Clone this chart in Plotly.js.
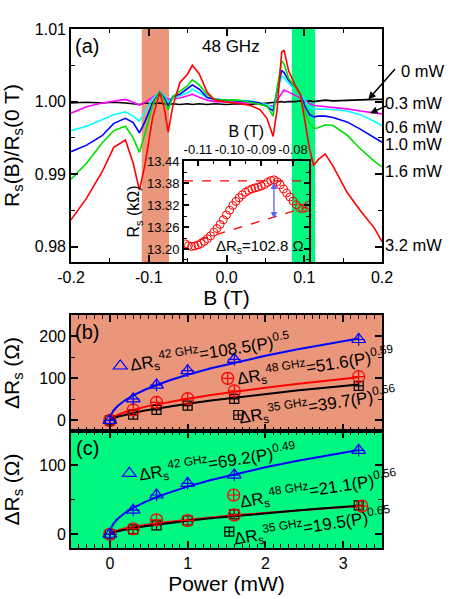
<!DOCTYPE html>
<html>
<head>
<meta charset="utf-8">
<script src="https://cdn.plot.ly/plotly-3.0.1.min.js"></script>
<style>
  html, body { margin: 0; padding: 0; background: #fff; }
  #chart { width: 463px; height: 599px; }
</style>
</head>
<body>
<div id="chart"></div>
<script>
const FONT = 'Liberation Sans, Arial, sans-serif';

// --- panel (a): Rs(B)/Rs(0 T) at 48 GHz for several powers ---
const fieldB = [-0.2, -0.18, -0.16, -0.145, -0.13, -0.12, -0.112, -0.105, -0.095, -0.086, -0.08, -0.075, -0.069,
  -0.06, -0.05, -0.044, -0.035, -0.025, -0.015, 0, 0.015, 0.03, 0.043, 0.052, 0.06, 0.065, 0.071, 0.074,
  0.08, 0.088, 0.095, 0.101, 0.107, 0.112, 0.118, 0.127, 0.137, 0.155, 0.172, 0.19, 0.2];

const ratio0mW = [0.9998, 0.9999, 0.9998, 0.9999, 0.9998, 0.9997, 0.9996, 0.9998, 0.9997, 0.9998, 0.9997, 0.9996,
  0.9997, 0.9996, 0.9997, 0.9996, 0.9997, 0.9996, 0.9997, 0.9996, 0.9997, 0.9996, 0.9997, 0.9998, 0.9998, 0.9999,
  1.0000, 0.9999, 1.0000, 1.0000, 1.0001, 1.0000, 1.0001, 1.0000, 1.0001, 1.0002, 1.0001, 1.0002, 1.0002, 1.0003, 1.0003];
const ratio03mW = [0.9984, 0.9993, 0.9998, 1.0001, 1.0003, 0.9999, 0.9995, 0.9999, 1.0006, 1.0011, 1.0006, 1.0003,
  1.0004, 1.0005, 1.0008, 1.0010, 1.0006, 1.0002, 1.0000, 1.0000, 0.9999, 0.9998, 0.9996, 0.9995, 0.9994, 1.0002,
  1.0012, 1.0016, 1.0013, 1.0009, 1.0006, 1.0002, 0.9997, 0.9995, 0.9994, 0.9993, 0.9992, 0.9990, 0.9987, 0.9984, 0.9983];
const ratio06mW = [0.9960, 0.9966, 0.9975, 0.9982, 0.9986, 0.9980, 0.9973, 0.9985, 1.0004, 1.0013, 1.0008, 1.0000,
  1.0004, 1.0008, 1.0012, 1.0017, 1.0012, 1.0005, 1.0003, 1.0002, 1.0002, 1.0001, 0.9998, 0.9996, 0.9991, 1.0010,
  1.0035, 1.0033, 1.0025, 1.0017, 1.0011, 1.0001, 0.9992, 0.9990, 0.9990, 0.9990, 0.9989, 0.9987, 0.9982, 0.9973, 0.9967];
const ratio10mW = [0.9931, 0.9940, 0.9953, 0.9970, 0.9977, 0.9971, 0.9957, 0.9972, 0.9998, 1.0013, 1.0005, 0.9994,
  1.0007, 1.0010, 1.0018, 1.0023, 1.0017, 1.0006, 1.0003, 1.0002, 1.0002, 1.0000, 0.9998, 0.9993, 0.9987, 1.0015,
  1.0043, 1.0040, 1.0029, 1.0020, 1.0010, 0.9993, 0.9982, 0.9979, 0.9980, 0.9980, 0.9978, 0.9972, 0.9962, 0.9950, 0.9944];
const ratio16mW = [0.9893, 0.9915, 0.9943, 0.9960, 0.9966, 0.9950, 0.9930, 0.9955, 0.9995, 1.0013, 1.0002, 0.9988,
  1.0007, 1.0014, 1.0022, 1.0030, 1.0023, 1.0010, 1.0003, 1.0002, 1.0002, 0.9999, 0.9996, 0.9994, 0.9980, 1.0018,
  1.0056, 1.0052, 1.0032, 1.0020, 1.0009, 0.9985, 0.9970, 0.9963, 0.9964, 0.9968, 0.9967, 0.9954, 0.9935, 0.9918, 0.9910];
const ratio32mW = [0.9837, 0.9867, 0.9903, 0.9937, 0.9947, 0.9915, 0.9878, 0.9912, 0.9978, 1.0012, 0.9991, 0.9958,
  0.9994, 1.0026, 1.0038, 1.0050, 1.0038, 1.0013, 1.0002, 1.0000, 0.9998, 0.9995, 0.9989, 0.9977, 0.9952, 0.9988,
  1.0068, 1.0071, 1.0042, 1.0023, 1.0010, 0.9971, 0.9934, 0.9912, 0.9920, 0.9928, 0.9911, 0.9875, 0.9850, 0.9826, 0.9807];

const powerLabels = ['0 mW', '0.3 mW', '0.6 mW', '1.0 mW', '1.6 mW', '3.2 mW'];
const curveColors = ['#000000', '#ff00ff', '#00ffff', '#0000ff', '#00e000', '#ff0000'];
const sweeps = [ratio0mW, ratio03mW, ratio06mW, ratio10mW, ratio16mW, ratio32mW];

// inset: Rs (kOhm) around -0.1 T
const insetB = [-0.114, -0.113, -0.112, -0.111, -0.110, -0.109, -0.108, -0.107, -0.106, -0.105, -0.104, -0.103,
  -0.102, -0.101, -0.100, -0.099, -0.098, -0.097, -0.096, -0.095, -0.094, -0.093, -0.092, -0.091, -0.090, -0.089,
  -0.088, -0.087, -0.086, -0.085, -0.084, -0.083, -0.082, -0.081, -0.080, -0.079, -0.078, -0.077, -0.076, -0.075];
const insetRs = [13.214, 13.209, 13.207, 13.208, 13.211, 13.215, 13.221, 13.228, 13.236, 13.246, 13.256, 13.267,
  13.280, 13.293, 13.306, 13.319, 13.330, 13.340, 13.348, 13.355, 13.360, 13.364, 13.367, 13.369, 13.372, 13.376,
  13.382, 13.387, 13.389, 13.384, 13.375, 13.364, 13.353, 13.342, 13.331, 13.321, 13.313, 13.310, 13.313, 13.320];
const peakB = -0.086;
const peakRs = 13.386;
const deltaRs = 102.8;  // Ohm
const topLineB = [-0.1144, -0.0751];
const baseLineB = [-0.1096, -0.0755];
const baseLineRs = [13.225, 13.315];

// --- panels (b) and (c): DeltaRs vs power ---
const power = [0, 0.3, 0.6, 1.0, 1.6, 3.2];
const power48c = [0, 0.3, 0.6, 1.0, 1.6, 3.24];
const dR42b = [0, 51, 84, 118, 145, 192];
const dR48b = [0, 25, 43, 52, 70, 104];
const dR35b = [0, 14, 25, 35, 51, 82];
const dR42c = [0, 35, 57, 74, 86, 122];
const dR48c = [0, 8, 21, 20, 28, 41];
const dR35c = [0, 7, 13, 20, 29, 42];

const fitP = [0, 0.02, 0.05, 0.1, 0.2, 0.3, 0.45, 0.6, 0.8, 1.0, 1.3, 1.6, 2.0, 2.4, 2.8, 3.2];
const fit42b = [0, 15.3, 24.3, 34.3, 48.5, 59.4, 72.8, 84.0, 97.0, 108.5, 123.7, 137.2, 153.4, 168.1, 181.6, 194.1];
const fit48b = [0, 5.1, 8.8, 13.3, 20.0, 25.4, 32.2, 38.2, 45.2, 51.6, 60.2, 68.1, 77.7, 86.5, 94.7, 102.5];
const fit35b = [0, 3.0, 5.5, 8.7, 13.7, 17.9, 23.4, 28.3, 34.3, 39.7, 47.2, 54.1, 62.7, 70.8, 78.3, 85.5];
const fit42c = [0, 10.2, 15.9, 22.4, 31.5, 38.4, 46.8, 53.9, 62.0, 69.2, 78.7, 87.1, 97.2, 106.3, 114.6, 122.4];
const fit48c = [0, 2.4, 3.9, 5.8, 8.6, 10.8, 13.5, 15.9, 18.6, 21.1, 24.4, 27.5, 31.1, 34.5, 37.6, 40.5];
const fit35c = [0, 1.5, 2.8, 4.4, 6.9, 8.9, 11.6, 14.0, 16.9, 19.5, 23.1, 26.5, 30.6, 34.5, 38.1, 41.5];

const fitLabelsB = ['ΔR<sub>s</sub><sup>42 GHz</sup>=108.5(P)<sup>0.5</sup>',
                    'ΔR<sub>s</sub><sup>48 GHz</sup>=51.6(P)<sup>0.59</sup>',
                    'ΔR<sub>s</sub><sup>35 GHz</sup>=39.7(P)<sup>0.66</sup>'];
const fitLabelsC = ['ΔR<sub>s</sub><sup>42 GHz</sup>=69.2(P)<sup>0.49</sup>',
                    'ΔR<sub>s</sub><sup>48 GHz</sup>=21.1(P)<sup>0.56</sup>',
                    'ΔR<sub>s</sub><sup>35 GHz</sup>=19.5(P)<sup>0.65</sup>'];

const SALMON = 'rgb(234,150,123)';
const SPRING = 'rgb(0,248,128)';

// --- traces ---
const traces = [];

sweeps.forEach((ys, i) => {
  traces.push({
    x: fieldB, y: ys, xaxis: 'x', yaxis: 'y', type: 'scatter', mode: 'lines', name: powerLabels[i],
    line: {color: curveColors[i], width: 1.6}, showlegend: false, hoverinfo: 'skip'
  });
});

// inset
traces.push({
  x: topLineB, y: [peakRs, peakRs], xaxis: 'x2', yaxis: 'y2', mode: 'lines',
  line: {color: 'red', width: 1.3, dash: 'dash'}, showlegend: false, hoverinfo: 'skip'
});
traces.push({
  x: baseLineB, y: baseLineRs, xaxis: 'x2', yaxis: 'y2', mode: 'lines',
  line: {color: 'red', width: 1.3, dash: 'dash'}, showlegend: false, hoverinfo: 'skip'
});
traces.push({
  x: insetB, y: insetRs, xaxis: 'x2', yaxis: 'y2', mode: 'markers',
  marker: {symbol: 'circle-open', size: 8, color: 'red', line: {width: 1, color: 'red'}},
  showlegend: false, hoverinfo: 'skip'
});

// fit curves + points for (b) and (c); the legend boxes only carry the key symbols,
// the fit equations sit next to them as annotations
function addPanel(xa, ya, fits, sets, legends) {
  const colors = ['#0000ff', '#ff0000', '#000000'];
  [0, 1, 2].forEach(i => {
    traces.push({
      x: fitP, y: fits[i], xaxis: xa, yaxis: ya, mode: 'lines',
      line: {color: colors[i], width: 2}, showlegend: false, hoverinfo: 'skip'
    });
  });
  const symbols = ['triangle-up-open', 'circle-cross-open', 'square-cross-open'];
  const sizes = [12, 12, 9];
  [2, 1, 0].forEach(i => {
    traces.push({
      x: sets[i][0], y: sets[i][1], xaxis: xa, yaxis: ya, mode: 'markers', name: ' ',
      marker: {symbol: symbols[i], size: sizes[i], color: colors[i], line: {width: 1.2, color: colors[i]}},
      legend: legends[i], showlegend: true, hoverinfo: 'skip'
    });
  });
  // the "+" inside the triangles
  traces.push({
    x: sets[0][0], y: sets[0][1], xaxis: xa, yaxis: ya, mode: 'markers',
    marker: {symbol: 'cross-thin-open', size: 9, color: colors[0], line: {width: 1.2, color: colors[0]}},
    showlegend: false, hoverinfo: 'skip'
  });
}

addPanel('x3', 'y3', [fit42b, fit48b, fit35b],
  [[power, dR42b], [power, dR48b], [power, dR35b]], ['legend', 'legend2', 'legend3']);
addPanel('x4', 'y4', [fit42c, fit48c, fit35c],
  [[power, dR42c], [power48c, dR48c], [power, dR35c]], ['legend4', 'legend5', 'legend6']);

// --- layout ---
const tickFont = {family: FONT, size: 16, color: 'black'};
const base = {
  showline: true, linecolor: 'black', linewidth: 1.6, mirror: 'allticks',
  ticks: 'inside', ticklen: 7, tickwidth: 1.5, tickcolor: 'black',
  showgrid: false, zeroline: false, tickfont: tickFont
};
const minor = (tick0, dtick, len) => ({ticks: 'inside', ticklen: len || 4, tickwidth: 1.2, tickcolor: 'black',
  tickmode: 'linear', tick0: tick0, dtick: dtick, showgrid: false});

function key(px, py) {
  return {
    x: px, y: py, xanchor: 'left', yanchor: 'middle', xref: 'paper', yref: 'paper',
    bgcolor: 'rgba(0,0,0,0)', borderwidth: 0, itemwidth: 30,
    font: {family: FONT, size: 12, color: 'black'}
  };
}

const layout = {
  width: 463, height: 599, autosize: false,
  margin: {l: 71, r: 81, t: 29, b: 51},
  paper_bgcolor: 'white', plot_bgcolor: 'rgba(0,0,0,0)',
  font: {family: FONT, color: 'black'},
  showlegend: true,
  xaxis: Object.assign({}, base, {
    domain: [0, 1], anchor: 'y', range: [-0.2, 0.2],
    tickmode: 'array', tickvals: [-0.2, -0.1, 0, 0.1, 0.2], ticktext: ['-0.2', '-0.1', '0.0', '0.1', '0.2'],
    minor: minor(0, 0.05),
    title: {text: 'B (T)', font: {family: FONT, size: 21}, standoff: 1}
  }),
  yaxis: Object.assign({}, base, {
    domain: [0.5511, 1], anchor: 'x', range: [0.9779, 1.01],
    tickmode: 'array', tickvals: [0.98, 0.99, 1.0, 1.01], ticktext: ['0.98', '0.99', '1.00', '1.01'],
    minor: minor(0, 0.005),
    title: {text: 'R<sub>s</sub>(B)/R<sub>s</sub>(0 T)', font: {family: FONT, size: 21}, standoff: 13}
  }),
  xaxis2: Object.assign({}, base, {
    domain: [0.3633, 0.7637], anchor: 'y2', side: 'top', range: [-0.1144, -0.0751], mirror: true,
    ticklen: 5, tickfont: {family: FONT, size: 13, color: 'black'},
    tickmode: 'array', tickvals: [-0.11, -0.10, -0.09, -0.08], ticktext: ['-0.11', '-0.10', '-0.09', '-0.08'],
    minor: minor(0, 0.005, 3),
    title: {text: 'B (T)', font: {family: FONT, size: 16}, standoff: 0}
  }),
  yaxis2: Object.assign({}, base, {
    domain: [0.5511, 0.7457], anchor: 'x2', range: [13.1645, 13.4405],
    ticklen: 5, tickfont: {family: FONT, size: 13, color: 'black'},
    tickmode: 'array', tickvals: [13.20, 13.26, 13.32, 13.38, 13.44],
    ticktext: ['13.20', '13.26', '13.32', '13.38', '13.44'],
    minor: minor(13.2, 0.03, 3),
    title: {text: 'R<sub>s</sub> (kΩ)', font: {family: FONT, size: 16}, standoff: 3}
  }),
  xaxis3: Object.assign({}, base, {
    domain: [0, 1], anchor: 'y3', range: [-0.5, 3.5], dtick: 1, tick0: 0,
    showticklabels: false, minor: minor(0, 0.1)
  }),
  yaxis3: Object.assign({}, base, {
    domain: [0.2254, 0.4489], anchor: 'x3', range: [-25, 250],
    tickmode: 'array', tickvals: [0, 100, 200], ticktext: ['0', '100', '200'],
    minor: minor(0, 50),
    title: {text: 'ΔR<sub>s</sub> (Ω)', font: {family: FONT, size: 21}, standoff: 14}
  }),
  xaxis4: Object.assign({}, base, {
    domain: [0, 1], anchor: 'y4', range: [-0.5, 3.5],
    tickmode: 'array', tickvals: [0, 1, 2, 3], ticktext: ['0', '1', '2', '3'],
    minor: minor(0, 0.1),
    title: {text: 'Power (mW)', font: {family: FONT, size: 21}, standoff: 1}
  }),
  yaxis4: Object.assign({}, base, {
    domain: [0, 0.2254], anchor: 'x4', range: [-20, 150],
    tickmode: 'array', tickvals: [0, 100], ticktext: ['0', '100'],
    minor: minor(0, 50),
    title: {text: 'ΔR<sub>s</sub> (Ω)', font: {family: FONT, size: 21}, standoff: 14}
  }),
  legend: key(0.0942, 0.3507),
  legend2: key(0.4395, 0.327),
  legend3: key(0.4736, 0.2563),
  legend4: key(0.1232, 0.1439),
  legend5: key(0.4588, 0.1021),
  legend6: key(0.4447, 0.0314),
  shapes: [
    {type: 'rect', xref: 'x', yref: 'y domain', x0: -0.109, x1: -0.074, y0: 0, y1: 1,
     fillcolor: SALMON, line: {width: 0}, layer: 'below'},
    {type: 'rect', xref: 'x', yref: 'y domain', x0: 0.084, x1: 0.114, y0: 0, y1: 1,
     fillcolor: SPRING, line: {width: 0}, layer: 'below'},
    {type: 'rect', xref: 'x3 domain', yref: 'y3 domain', x0: 0, x1: 1, y0: 0, y1: 1,
     fillcolor: SALMON, line: {width: 0}, layer: 'below'},
    {type: 'rect', xref: 'x4 domain', yref: 'y4 domain', x0: 0, x1: 1, y0: 0, y1: 1,
     fillcolor: SPRING, line: {width: 0}, layer: 'below'}
  ],
  annotations: []
};

const txt = (text, size) => ({text: text, showarrow: false, xanchor: 'center', yanchor: 'middle',
  font: {family: FONT, size: size, color: 'black'}});
const ann = layout.annotations;
ann.push(Object.assign(txt('(a)', 20), {xref: 'x domain', yref: 'y domain', x: 0.053, y: 0.927}));
ann.push(Object.assign(txt('48 GHz', 17), {xref: 'x domain', yref: 'y domain', x: 0.514, y: 0.927}));
ann.push(Object.assign(txt('(b)', 20), {xref: 'x3 domain', yref: 'y3 domain', x: 0.053, y: 0.853}));
ann.push(Object.assign(txt('(c)', 20), {xref: 'x4 domain', yref: 'y4 domain', x: 0.053, y: 0.855}));
ann.push(Object.assign(txt('ΔR<sub>s</sub>=102.8 Ω', 15), {xref: 'x2 domain', yref: 'y2 domain', x: 0.61, y: 0.15}));

// fit equations, tilted as in the original
const eqSpots = [
  ['x3', 'y3', fitLabelsB[0], 0.447, 0.681], ['x3', 'y3', fitLabelsB[1], 0.785, 0.560],
  ['x3', 'y3', fitLabelsB[2], 0.794, 0.224], ['x4', 'y4', fitLabelsC[0], 0.4725, 0.735],
  ['x4', 'y4', fitLabelsC[1], 0.797, 0.504], ['x4', 'y4', fitLabelsC[2], 0.778, 0.188]
];
eqSpots.forEach(s => {
  ann.push(Object.assign(txt(s[2], 17), {xref: s[0] + ' domain', yref: s[1] + ' domain', x: s[3], y: s[4],
    textangle: -9}));
});

// power labels on the right of panel (a)
const labelSpots = [[1.056, 1.0042], [1.004, 0.99986], [1.004, 0.99655], [1.004, 0.9942], [1.004, 0.9904], [1.004, 0.98018]];
powerLabels.forEach((t, i) => {
  ann.push(Object.assign(txt(t, 16.5), {xref: 'x domain', yref: 'y', x: labelSpots[i][0], y: labelSpots[i][1],
    xanchor: 'left'}));
});
// arrows pointing at the 0 and 0.3 mW curves
ann.push({xref: 'x', yref: 'y', x: 0.1824, y: ratio0mW[39], ax: 28, ay: -32, text: '', showarrow: true,
  arrowhead: 2, arrowsize: 1, arrowwidth: 1.5, arrowcolor: 'black', standoff: 0});
ann.push({xref: 'x', yref: 'y', x: 0.1846, y: ratio03mW[39], ax: 18, ay: -8, text: '', showarrow: true,
  arrowhead: 2, arrowsize: 1, arrowwidth: 1.5, arrowcolor: 'black', standoff: 0});
// double arrow in the inset: peak minus baseline = deltaRs
ann.push({xref: 'x2', yref: 'y2', axref: 'x2', ayref: 'y2', x: peakB, y: peakRs - deltaRs / 1000,
  ax: peakB, ay: peakRs, text: '', showarrow: true, arrowside: 'end+start', arrowhead: 2, arrowsize: 1,
  arrowwidth: 1.3, arrowcolor: 'rgb(90,100,255)', standoff: 0, startstandoff: 0});

Plotly.newPlot('chart', traces, layout, {displayModeBar: false, responsive: false});
</script>
</body>
</html>
